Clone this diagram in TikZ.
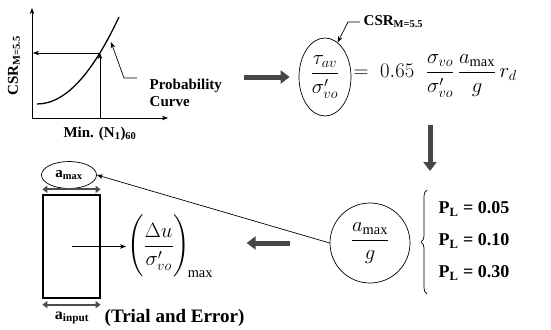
\documentclass[tikz,border=0pt]{standalone}
\usepackage{amsmath}
\usepackage{fontspec}
\setmainfont{Liberation Serif}
\usetikzlibrary{arrows.meta,shapes,decorations.pathreplacing}

\tikzset{
  lbl/.style={font=\fontsize{15}{17}\selectfont\bfseries},
  big/.style={font=\fontsize{18}{32}\selectfont\bfseries},
  blockarrow/.style={line width=5pt,draw=gray!55!black,-{Triangle[length=9pt,width=13pt]}},
  widtharrow/.style={line width=2pt,draw=gray!60!black,{Triangle[length=5pt,width=7pt]}-{Triangle[length=5pt,width=7pt]}},
}

\begin{document}
\begin{tikzpicture}[x=1pt,y=-1pt,>=Stealth,line width=0.7pt]
\useasboundingbox (0,0) rectangle (551,329);
% CSR against (N1)60
\draw[-Stealth] (32,118)--(32,8);
\draw[-Stealth] (32,118)--(168,118);
\draw[line width=1.3pt] (37,104) .. controls (68,104) and (95,68) .. (119,17);
\coordinate (xq) at (100,118);
\coordinate (cq) at (100,53);
\coordinate (yq) at (33,53);
\draw[-Stealth] (xq)--(cq);
\draw[-Stealth] (cq)--(yq);
\node[lbl,rotate=90] (csry) at (14,66) {CSR\textsubscript{M=5.5}};
\node[lbl] (nlab) at (100,134) {Min. (N\textsubscript{1})\textsubscript{60}};
\node[lbl,anchor=west,align=left] (prob) at (146,93) {Probability\\Curve};
\coordinate (ptail) at (137,78);
\coordinate (ppt) at (111,42);
\draw[-Stealth] (ptail)-- ++(-13,0)--(ppt);

% simplified procedure
\node[draw,ellipse,minimum width=52,minimum height=78,inner sep=0pt] (csr) at (325,77)
  {\huge$\dfrac{\tau_{av}}{\sigma'_{vo}}$};
\node[lbl,anchor=west] (csrlab) at (360,22) {CSR\textsubscript{M=5.5}};
\draw[-Stealth] (csrlab.west)-- ++(-12,0)--(csr.70);
\node[anchor=west,font=\huge] (eq) at (350,76)
  {$=\;0.65\;\;\dfrac{\sigma_{vo}}{\sigma'_{vo}}\,\dfrac{a_{\max}}{g}\,r_d$};
\draw[blockarrow] ([xshift=-55pt]csr.west)--([xshift=-9pt]csr.west);
\coordinate (dtop) at (430,125);
\coordinate (dbot) at (430,171);
\draw[blockarrow] (dtop)--(dbot);

\node[draw,circle,minimum size=80,inner sep=0pt] (amaxg) at (370,243)
  {\huge$\dfrac{a_{\max}}{g}$};
\draw[decorate,decoration={brace,amplitude=6pt}] (427,294)--(427,190);
\node[big,anchor=west,align=left] (plist) at (435,241)
  {P\textsubscript{L} = 0.05\\P\textsubscript{L} = 0.10\\P\textsubscript{L} = 0.30};
\draw[blockarrow] ([xshift=-40pt]amaxg.west)--([xshift=-83pt]amaxg.west);

% site response
\node[draw,ellipse,minimum width=55,minimum height=27,inner sep=0pt,lbl] (amaxin) at (69,175) {a\textsubscript{max}};
\node[draw,line width=1.3pt,minimum width=57,minimum height=103,inner sep=0pt] (soil) at (71.5,246.5) {};
\draw[widtharrow] ([yshift=5pt]soil.north west)--([yshift=5pt]soil.north east);
\draw[widtharrow] ([yshift=-6pt]soil.south west)--([yshift=-6pt]soil.south east);
\node[anchor=west,font=\huge,inner sep=1pt] (pore) at (126,246.5)
  {$\left(\dfrac{\rule{0pt}{21pt}\Delta u}{\sigma'_{vo}\rule[-9pt]{0pt}{9pt}}\right)_{\!\max}$};
\draw[-Stealth] (soil.center)--(pore.west);
\draw[-Stealth] (amaxg.west)--(amaxin.east);
\node[font=\fontsize{16}{18}\selectfont\bfseries] (ainp) at (72,318) {a\textsubscript{input}};
\node[font=\fontsize{19}{22}\selectfont\bfseries,anchor=west] (trial) at (101,318) {(Trial and Error)};
\end{tikzpicture}
\end{document}
